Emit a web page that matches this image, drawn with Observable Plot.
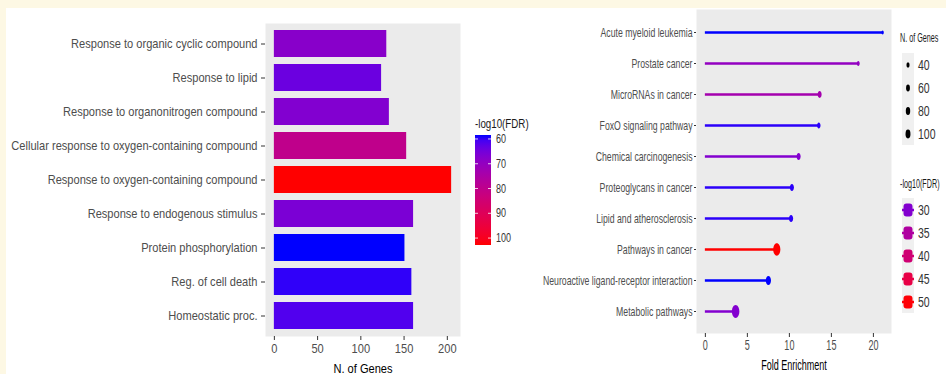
<!DOCTYPE html>
<html><head><meta charset="utf-8">
<script src="https://cdn.jsdelivr.net/npm/d3@7"></script>
<script src="https://cdn.jsdelivr.net/npm/@observablehq/plot@0.6"></script>
<style>
html,body{margin:0;padding:0;background:#fff;}
#root{position:relative;width:946px;height:374px;overflow:hidden;background:#fff;font-family:"Liberation Sans",Arial,sans-serif;}
#root svg{position:absolute;top:0;}
</style></head><body><div id="root"></div>
<script>
// ---- Left panel: GO terms ----
const goTerms = ["Response to organic cyclic compound", "Response to lipid", "Response to organonitrogen compound", "Cellular response to oxygen-containing compound", "Response to oxygen-containing compound", "Response to endogenous stimulus", "Protein phosphorylation", "Reg. of cell death", "Homeostatic proc."];
const goGenes = [130, 124, 133, 153, 205, 161, 151, 159, 161];
const goLogFDR = [68, 64, 67, 80, 102.8, 66, 58.4, 59.5, 61.5];
const goXTicks = [0, 50, 100, 150, 200];
const goLegendTicks = [60, 70, 80, 90, 100];

// ---- Right panel: KEGG pathways ----
const keggPathways = ["Acute myeloid leukemia", "Prostate cancer", "MicroRNAs in cancer", "FoxO signaling pathway", "Chemical carcinogenesis", "Proteoglycans in cancer", "Lipid and atherosclerosis", "Pathways in cancer", "Neuroactive ligand-receptor interaction", "Metabolic pathways"];
const keggFold = [21.1, 18.2, 13.6, 13.5, 11.1, 10.3, 10.2, 8.5, 7.5, 3.6];
const keggGenes = [25, 38, 72, 56, 76, 76, 80, 235, 126, 260];
const keggLogFDR = [25, 31.5, 33.5, 25.5, 30, 25.5, 25.5, 50.3, 25, 30];
const keggXTicks = [0, 5, 10, 15, 20];
const sizeBreaks = [40, 60, 80, 100];
const fdrBreaks = [30, 35, 40, 45, 50];

const FONT = "'Liberation Sans', Arial, sans-serif";
const root = document.getElementById("root");

const goData = goTerms.map((t, i) => ({term: t, genes: goGenes[i], fdr: goLogFDR[i]}));
const goMax = d3.max(goGenes);
const left = Plot.plot({
  width: 465, height: 374,
  marginLeft: 265, marginRight: 5, marginTop: 23, marginBottom: 38,
  style: {fontFamily: FONT, fontSize: "13px", background: "transparent", overflow: "visible"},
  x: {domain: [-0.05 * goMax, goMax * 1.05]},
  y: {domain: goTerms, padding: 0.2},
  color: {type: "linear", domain: d3.extent(goLogFDR), range: ["blue", "red"], interpolate: "lab"},
  marks: [
    Plot.frame({fill: "#ebebeb", stroke: "none"}),
    Plot.barX(goData, {y: "term", x: "genes", fill: "fdr"}),
    Plot.axisY({tickSize: 4, tickPadding: 4, fontSize: 13.5, label: null}),
    Plot.axisX({ticks: goXTicks, tickSize: 4, tickPadding: 3, fontSize: 13.5, label: "N. of Genes", labelArrow: "none", labelAnchor: "center", labelOffset: 36})
  ]
});
left.style.left = "0px";
root.appendChild(left);

const ellipse = {
  draw(ctx, size) {
    const ry = Math.sqrt(size / Math.PI), rx = ry * 0.58, k = 0.5523;
    ctx.moveTo(rx, 0);
    ctx.bezierCurveTo(rx, k * ry, k * rx, ry, 0, ry);
    ctx.bezierCurveTo(-k * rx, ry, -rx, k * ry, -rx, 0);
    ctx.bezierCurveTo(-rx, -k * ry, -k * rx, -ry, 0, -ry);
    ctx.bezierCurveTo(k * rx, -ry, rx, -k * ry, rx, 0);
    ctx.closePath();
  }
};

const keggData = keggPathways.map((p, i) => ({path: p, fold: keggFold[i], genes: keggGenes[i], fdr: keggLogFDR[i]}));
const fMax = d3.max(keggFold);
const right = Plot.plot({
  width: 366, height: 374,
  marginLeft: 166, marginRight: 5, marginTop: 9, marginBottom: 41,
  style: {fontFamily: FONT, fontSize: "13px", background: "transparent", overflow: "visible"},
  x: {domain: [-0.05 * fMax, fMax * 1.05]},
  y: {domain: keggPathways, type: "point", padding: 0.6},
  color: {type: "linear", domain: d3.extent(keggLogFDR), range: ["blue", "red"], interpolate: "lab"},
  r: {type: "sqrt", domain: [0, 100], range: [0, 4]},
  marks: [
    Plot.frame({fill: "#ebebeb", stroke: "none"}),
    Plot.ruleY(keggData, {y: "path", x1: 0, x2: "fold", stroke: "fdr", strokeWidth: 2.5}),
    Plot.dot(keggData, {y: "path", x: "fold", r: "genes", fill: "fdr", symbol: ellipse}),
    Plot.axisY({tickSize: 2, tickPadding: 2, fontSize: 13.5, label: null}),
    Plot.axisX({ticks: keggXTicks, tickSize: 4, tickPadding: 3, fontSize: 14, label: "Fold Enrichment", labelArrow: "none", labelAnchor: "center", labelOffset: 36})
  ]
});
right.style.left = "530px";
root.appendChild(right);

// ---- overlay: background strips and legends ----
const ov = d3.select(root).append("svg").attr("width", 946).attr("height", 374)
  .style("left", "0px").style("font-family", FONT);
ov.append("rect").attr("x", 0).attr("y", 0).attr("width", 946).attr("height", 8).attr("fill", "#fdf8e4");
ov.append("rect").attr("x", 0).attr("y", 0).attr("width", 6).attr("height", 374).attr("fill", "#fdf8e4");

// Left colour bar
const lc = left.scale("color");
const barY = d3.scaleLinear().domain(lc.domain).range([135, 245]);
const grad = ov.append("defs").append("linearGradient").attr("id", "gbar").attr("x1", 0).attr("x2", 0).attr("y1", 0).attr("y2", 1);
d3.range(0, 1.0001, 0.05).forEach(t => {
  const v = lc.domain[0] + t * (lc.domain[1] - lc.domain[0]);
  grad.append("stop").attr("offset", t).attr("stop-color", lc.apply(v));
});
ov.append("text").attr("class", "lg").attr("x", 475).attr("y", 128).attr("font-size", 13).attr("fill", "#1a1a1a").text("-log10(FDR)");
ov.append("rect").attr("x", 475).attr("y", 135).attr("width", 16).attr("height", 110).attr("fill", "url(#gbar)");
goLegendTicks.forEach(v => {
  const y = barY(v);
  ov.append("line").attr("x1", 475).attr("x2", 478).attr("y1", y).attr("y2", y).attr("stroke", "#fff").attr("stroke-width", 0.8);
  ov.append("line").attr("x1", 488).attr("x2", 491).attr("y1", y).attr("y2", y).attr("stroke", "#fff").attr("stroke-width", 0.8);
  ov.append("text").attr("class", "lg").attr("x", 496).attr("y", y + 4).attr("font-size", 12).attr("fill", "#333").text(v);
});

// Right size legend
const rs = right.scale("r");
const rc = right.scale("color");
ov.append("g").attr("transform", "translate(900,42) scale(0.6,1)")
  .append("text").attr("x", 0).attr("y", 0).attr("font-size", 12).attr("fill", "#1a1a1a").text("N. of Genes");
ov.append("rect").attr("x", 902).attr("y", 53).attr("width", 12).attr("height", 23 * sizeBreaks.length).attr("fill", "#f0f0f0");
sizeBreaks.forEach((v, i) => {
  const y = 65 + 23 * i;
  const ry = rs.apply(v);
  ov.append("ellipse").attr("cx", 908).attr("cy", y).attr("rx", ry * 0.62).attr("ry", ry * 1.1).attr("fill", "#000");
  ov.append("text").attr("class", "lg").attr("x", 918).attr("y", y + 5).attr("font-size", 14).attr("fill", "#333").text(v);
});

// Right colour legend
ov.append("g").attr("transform", "translate(900,188) scale(0.6,1)")
  .append("text").attr("x", 0).attr("y", 0).attr("font-size", 12).attr("fill", "#1a1a1a").text("-log10(FDR)");
ov.append("rect").attr("x", 902).attr("y", 198).attr("width", 12).attr("height", 23 * fdrBreaks.length).attr("fill", "#f0f0f0");
fdrBreaks.forEach((v, i) => {
  const y = 210 + 23 * i;
  const c = rc.apply(v);
  ov.append("line").attr("x1", 902).attr("x2", 914).attr("y1", y).attr("y2", y).attr("stroke", c).attr("stroke-width", 2.5);
  ov.append("rect").attr("x", 903.5).attr("y", y - 6.5).attr("width", 9).attr("height", 13).attr("rx", 3).attr("fill", c);
  ov.append("text").attr("class", "lg").attr("x", 918).attr("y", y + 5).attr("font-size", 14).attr("fill", "#333").text(v);
});

// ---- text styling: mimic condensed lettering of the reference ----
function squish(nodes, f) {
  nodes.each(function () {
    const L = this.getComputedTextLength();
    if (L > 0) { this.setAttribute("textLength", L * f); this.setAttribute("lengthAdjust", "spacingAndGlyphs"); }
  });
}
d3.selectAll("#root [aria-label$='axis label'] text").each(function () { this.textContent = this.textContent.replace(/\s*[→←↑↓]\s*/g, ""); });
d3.select(left).selectAll("[aria-label='y-axis tick label'] text, [aria-label='x-axis tick label'] text").attr("fill", "#4d4d4d");
d3.select(right).selectAll("[aria-label='y-axis tick label'] text, [aria-label='x-axis tick label'] text").attr("fill", "#4d4d4d");
d3.selectAll("#root [aria-label='y-axis tick'], #root [aria-label='x-axis tick']").attr("stroke", "#333");
squish(d3.select(left).selectAll("text"), 0.82);
squish(d3.select(right).selectAll("text"), 0.645);
squish(ov.selectAll("text.lg"), 0.75);
</script></body></html>
